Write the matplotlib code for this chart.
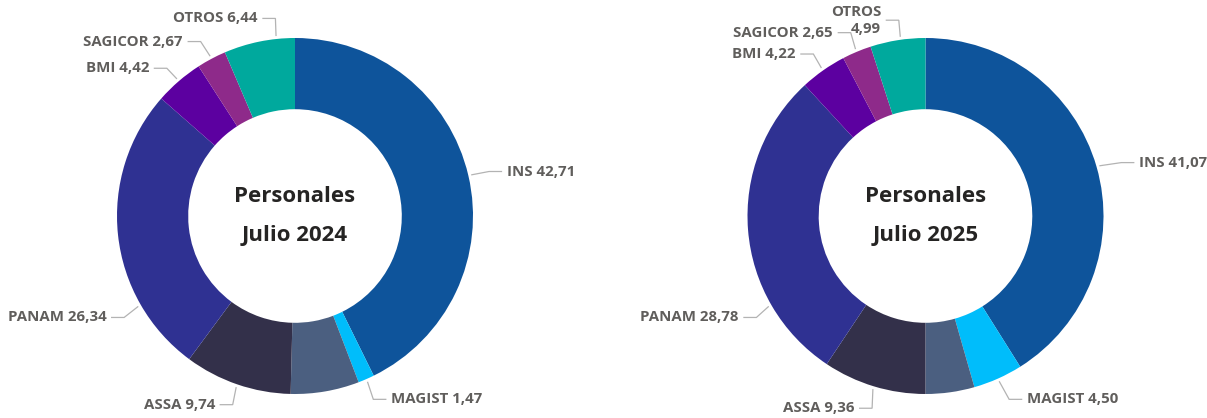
import numpy as np
import matplotlib.pyplot as plt

# market share, clockwise from 12 o'clock
companies = ["INS", "MAGIST", None, "ASSA", "PANAM", "BMI", "SAGICOR", "OTROS"]
share_2024 = [42.71, 1.47, 6.21, 9.74, 26.34, 4.42, 2.67, 6.44]
share_2025 = [41.07, 4.50, 4.43, 9.36, 28.78, 4.22, 2.65, 4.99]
titles = ["Personales\nJulio 2024", "Personales\nJulio 2025"]

colors = ["#0e549b", "#00bdfb", "#4b5f80", "#33304a", "#2f3192",
          "#5c00a0", "#8e2a8a", "#00a99d"]

# label layout (in units of the outer radius): text x, text y
# plus an optional override of the angle where the leader meets the ring
label_pos_2024 = {"INS": (1.19, 0.25), "MAGIST": (0.54, -1.03),
                  "ASSA": (-0.45, -1.06), "PANAM": (-1.06, -0.57),
                  "BMI": (-0.82, 0.83), "SAGICOR": (-0.63, 0.98),
                  "OTROS": (-0.21, 1.11)}
label_pos_2025 = {"INS": (1.20, 0.30), "MAGIST": (0.57, -1.03),
                  "ASSA": (-0.40, -1.08), "PANAM": (-1.05, -0.57),
                  "BMI": (-0.73, 0.91), "SAGICOR": (-0.52, 1.03),
                  "OTROS": (-0.25, 1.10)}
angle_fix_2024 = {"PANAM": 240, "OTROS": 354}
angle_fix_2025 = {"PANAM": 240, "OTROS": 352}

LABEL_COLOR = "#605e5c"
LINE_COLOR = "#b3b3b3"
FONT = ["Open Sans", "DejaVu Sans"]

fig = plt.figure(figsize=(12.07, 4.18), dpi=100)
ax = fig.add_axes([0, 0, 1, 1])
ax.set_xlim(0, 1207)
ax.set_ylim(0, 418)
ax.set_aspect("equal")
ax.axis("off")


def draw_donut(center, values, title, label_pos, angle_fix, split_otros):
    R = 178.0
    cx, cy = center
    ax.pie(values, colors=colors, startangle=90, counterclock=False,
           center=center, radius=R, frame=True,
           wedgeprops=dict(width=0.4 * R, edgecolor="none"))
    total = float(sum(values))
    cum = np.cumsum([0] + list(values))
    for i, name in enumerate(companies):
        if name is None:
            continue
        mid = (cum[i] + cum[i + 1]) / 2.0 / total * 360.0
        ang = np.deg2rad(angle_fix.get(name, mid))
        # point on ring (angle clockwise from top)
        px, py = cx + 1.02 * R * np.sin(ang), cy + 1.02 * R * np.cos(ang)
        tx, ty = label_pos[name]
        s = 1 if tx > 0 else -1
        gap, run = 0.03, 0.07
        ex = cx + (tx - s * (gap + run)) * R
        ey = cy + ty * R
        lx = cx + (tx - s * gap) * R
        ax.plot([px, ex, lx], [py, ey, ey], color=LINE_COLOR, lw=0.9,
                solid_joinstyle="miter")
        val = values[i]
        txt = "{} {:.2f}".format(name, val).replace(".", ",")
        if name == "OTROS" and split_otros:
            txt = "{}\n{:.2f}".format(name, val).replace(".", ",")
        ax.text(cx + tx * R, ey, txt, ha="left" if s > 0 else "right",
                va="center", fontsize=10.8, fontweight="bold",
                color=LABEL_COLOR, family=FONT, linespacing=1.25,
                multialignment="right")
    ax.text(cx, cy, title, ha="center", va="center", fontsize=16,
            fontweight="bold", color="#252423", family=FONT, linespacing=2.15)


draw_donut((295, 202), share_2024, titles[0], label_pos_2024, angle_fix_2024, False)
draw_donut((925.5, 202), share_2025, titles[1], label_pos_2025, angle_fix_2025, True)

ax.set_xlim(0, 1207)
ax.set_ylim(0, 418)
fig.savefig("out.png", dpi=100)
